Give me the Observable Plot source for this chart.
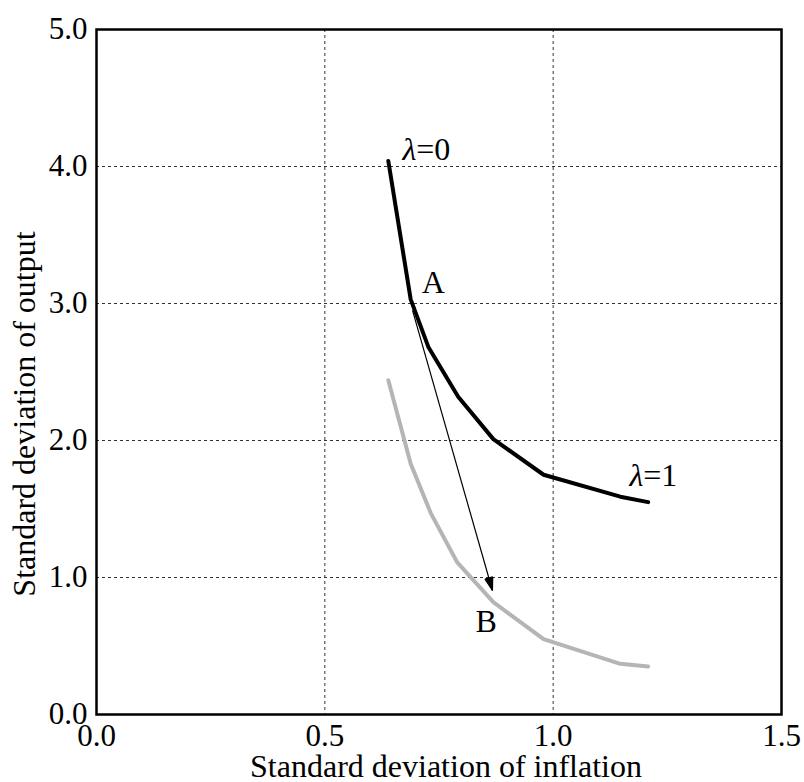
<!DOCTYPE html>
<html>
<head>
<meta charset="utf-8">
<script src="https://cdn.jsdelivr.net/npm/d3@7"></script>
<script src="https://cdn.jsdelivr.net/npm/@observablehq/plot@0.6"></script>
<style>
  html, body { margin: 0; padding: 0; background: #fff; }
  svg { font-family: "Liberation Serif", "Times New Roman", serif; }
</style>
</head>
<body>
<div id="chart"></div>
<script>
// Black frontier (lambda from 0 to 1)
const blackX = [0.639, 0.688, 0.727, 0.792, 0.869, 0.979, 1.147, 1.208];
const blackY = [4.04, 3.03, 2.68, 2.32, 2.01, 1.75, 1.59, 1.55];
// Gray frontier
const grayX = [0.639, 0.688, 0.732, 0.790, 0.869, 0.979, 1.147, 1.208];
const grayY = [2.44, 1.83, 1.47, 1.11, 0.82, 0.55, 0.37, 0.35];
// Arrow from A to B
const arrowFrom = [0.692, 2.95];
const arrowTo = [0.867, 0.905];
// Annotations
const labelText = ["λ=0", "A", "B", "λ=1"];
const labelX = [0.670, 0.712, 0.830, 1.167];
const labelY = [4.05, 3.077, 0.60, 1.667];
// Axes
const xTicks = [0.0, 0.5, 1.0, 1.5];
const yTicks = [0.0, 1.0, 2.0, 3.0, 4.0, 5.0];
const xGrid = [0.5, 1.0];
const yGrid = [1.0, 2.0, 3.0, 4.0];
const xTitle = "Standard deviation of inflation";
const yTitle = "Standard deviation of output";

const black = blackX.map((x, i) => ({x, y: blackY[i]}));
const gray = grayX.map((x, i) => ({x, y: grayY[i]}));
const labels = labelText.map((t, i) => ({t, x: labelX[i], y: labelY[i]}));
const arrow = [{x1: arrowFrom[0], y1: arrowFrom[1], x2: arrowTo[0], y2: arrowTo[1]}];

const FS = 32;
const TFS = 31;

function italicLambda(index, scales, values, dimensions, context, next) {
  const g = next(index, scales, values, dimensions, context);
  g.querySelectorAll("text").forEach(t => {
    const s = t.textContent;
    if (s.startsWith("λ")) {
      t.textContent = "";
      const a = document.createElementNS("http://www.w3.org/2000/svg", "tspan");
      a.setAttribute("font-style", "italic");
      a.textContent = "λ";
      const b = document.createElementNS("http://www.w3.org/2000/svg", "tspan");
      b.textContent = s.slice(1);
      t.appendChild(a); t.appendChild(b);
    }
  });
  return g;
}

function filledHead(index, scales, values, dimensions, context, next) {
  const g = next(index, scales, values, dimensions, context);
  for (const i of index) {
    const x1 = values.x1[i], y1 = values.y1[i], x2 = values.x2[i], y2 = values.y2[i];
    const dx = x2 - x1, dy = y2 - y1, L = Math.hypot(dx, dy);
    const ux = dx / L, uy = dy / L;
    const len = 13, half = 4;
    const bx = x2 - ux * len, by = y2 - uy * len;
    const p = document.createElementNS("http://www.w3.org/2000/svg", "polygon");
    p.setAttribute("points", `${x2},${y2} ${bx - uy * half},${by + ux * half} ${bx + uy * half},${by - ux * half}`);
    p.setAttribute("fill", "black");
    g.appendChild(p);
  }
  return g;
}

const chart = Plot.plot({
  width: 804,
  height: 782,
  marginLeft: 96,
  marginRight: 23,
  marginTop: 29,
  marginBottom: 68,
  x: {domain: [0, 1.5]},
  y: {domain: [0, 5]},
  style: {fontFamily: "'Liberation Serif', 'Times New Roman', serif", background: "#fff"},
  marks: [
    Plot.ruleX(xGrid, {stroke: "#333", strokeWidth: 1, strokeDasharray: "3,3"}),
    Plot.ruleY(yGrid, {stroke: "#333", strokeWidth: 1, strokeDasharray: "3,3"}),
    Plot.line(gray, {x: "x", y: "y", stroke: "#b5b5b5", strokeWidth: 4, strokeLinejoin: "miter"}),
    Plot.line(black, {x: "x", y: "y", stroke: "black", strokeWidth: 4, strokeLinejoin: "miter"}),
    Plot.link(arrow, {x1: "x1", y1: "y1", x2: "x2", y2: "y2", stroke: "black", strokeWidth: 1.2, render: filledHead}),
    Plot.text(labels, {x: "x", y: "y", text: "t", textAnchor: "start", lineAnchor: "bottom", fontSize: FS, fill: "black", render: italicLambda}),
    Plot.frame({stroke: "black", strokeWidth: 2.5}),
    Plot.axisX(xTicks, {tickSize: 0, tickPadding: 9, fontSize: TFS, tickFormat: d3.format(".1f"), label: null, fill: "black"}),
    Plot.axisY(yTicks, {tickSize: 0, tickPadding: 9, fontSize: TFS, tickFormat: d3.format(".1f"), label: null, fill: "black"}),
    Plot.text([xTitle], {frameAnchor: "bottom", textAnchor: "middle", lineAnchor: "bottom", dx: 7, dy: 62, fontSize: FS, fill: "black"}),
    Plot.text([yTitle], {frameAnchor: "left", textAnchor: "middle", lineAnchor: "middle", rotate: -90, dx: -72, dy: 42, fontSize: FS, fill: "black"})
  ]
});
document.getElementById("chart").appendChild(chart);
</script>
</body>
</html>
